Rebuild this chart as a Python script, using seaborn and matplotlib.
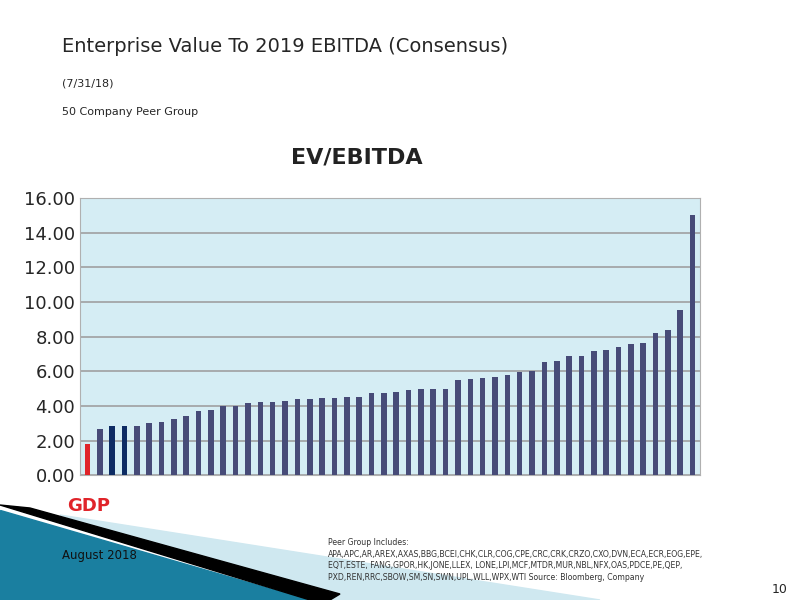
import matplotlib
matplotlib.use("Agg")
import matplotlib.pyplot as plt
import seaborn as sns
import pandas as pd
from matplotlib.patches import Polygon

values = [1.78, 2.65, 2.82, 2.86, 2.86, 3.00, 3.05, 3.27, 3.44, 3.71, 3.77, 4.00, 4.00,
          4.14, 4.25, 4.25, 4.31, 4.37, 4.41, 4.46, 4.48, 4.50, 4.52, 4.73, 4.73, 4.81,
          4.91, 4.97, 5.00, 5.00, 5.51, 5.57, 5.60, 5.68, 5.76, 5.93, 5.99, 6.51, 6.59,
          6.88, 6.88, 7.19, 7.23, 7.40, 7.56, 7.61, 8.21, 8.39, 9.55, 15.01]
companies = [f"C{i}" for i in range(len(values))]
colors = ["#e0242a", "#474b78", "#0d2b63", "#0d2b63"] + ["#474b78"] * (len(values) - 4)
yticks = [0, 2, 4, 6, 8, 10, 12, 14, 16]

df = pd.DataFrame({"company": companies, "value": values})

sns.set_style("white")
plt.rcParams['font.family'] = ['DejaVu Sans']
fig = plt.figure(figsize=(8, 6), dpi=100)

deco = fig.add_axes([0, 0, 1, 1], zorder=-5)
deco.set_xlim(0, 800); deco.set_ylim(600, 0); deco.axis("off")
deco.add_patch(Polygon([(60, 515), (600, 600), (330, 600)], closed=True, color="#cfe8f0"))
deco.add_patch(Polygon([(0, 510), (0, 600), (310, 600)], closed=True, color="#1a7fa0"))
deco.add_patch(Polygon([(0, 505), (30, 508), (340, 594), (330, 600), (310, 600)], closed=True, color="#000000"))

ax = fig.add_axes([0.10, 0.208, 0.775, 0.462])
ax.set_axisbelow(True)
ax.grid(axis="y", color="#a0a0a0", lw=1.2, zorder=0)
sns.barplot(data=df, x="company", y="value", hue="company", palette=colors,
            legend=False, ax=ax, width=0.45, saturation=1, linewidth=0, edgecolor="none")
for p in ax.patches:
    p.set_zorder(3)
ax.set_facecolor("#d5edf4")
ax.set_ylim(0, 16)
ax.set_yticks(yticks)
ax.set_yticklabels([f"{v:.2f}" for v in yticks], fontsize=13)
ax.set_xticks([i + 0.5 for i in range(-1, len(values))])
ax.set_xticklabels([])
ax.set_xlim(-0.6, len(values) - 0.4)
ax.tick_params(axis="x", length=5, color="#aaaaaa")
ax.tick_params(axis="y", length=0)
for s in ax.spines.values():
    s.set_color("#b0b0b0")
ax.set_xlabel(""); ax.set_ylabel("")

fig.text(0.078, 0.913, "Enterprise Value To 2019 EBITDA (Consensus)", fontsize=14)
fig.text(0.078, 0.855, "(7/31/18)", fontsize=8)
fig.text(0.078, 0.808, "50 Company Peer Group", fontsize=8)
fig.text(0.446, 0.728, "EV/EBITDA", fontsize=16, ha="center", color="#222222", fontweight="bold")
fig.text(0.084, 0.148, "GDP", fontsize=13, color="#e0242a", fontweight="bold")
fig.text(0.078, 0.068, "August 2018", fontsize=8.5, color="#111111")
fig.text(0.41, 0.034,
         "Peer Group Includes:\n"
         "APA,APC,AR,AREX,AXAS,BBG,BCEI,CHK,CLR,COG,CPE,CRC,CRK,CRZO,CXO,DVN,ECA,ECR,EOG,EPE,\n"
         "EQT,ESTE, FANG,GPOR,HK,JONE,LLEX, LONE,LPI,MCF,MTDR,MUR,NBL,NFX,OAS,PDCE,PE,QEP,\n"
         "PXD,REN,RRC,SBOW,SM,SN,SWN,UPL,WLL,WPX,WTI Source: Bloomberg, Company",
         fontsize=5.6, color="#333333", linespacing=1.35)
fig.text(0.965, 0.012, "10", fontsize=9)

fig.savefig("out.png", dpi=100)
